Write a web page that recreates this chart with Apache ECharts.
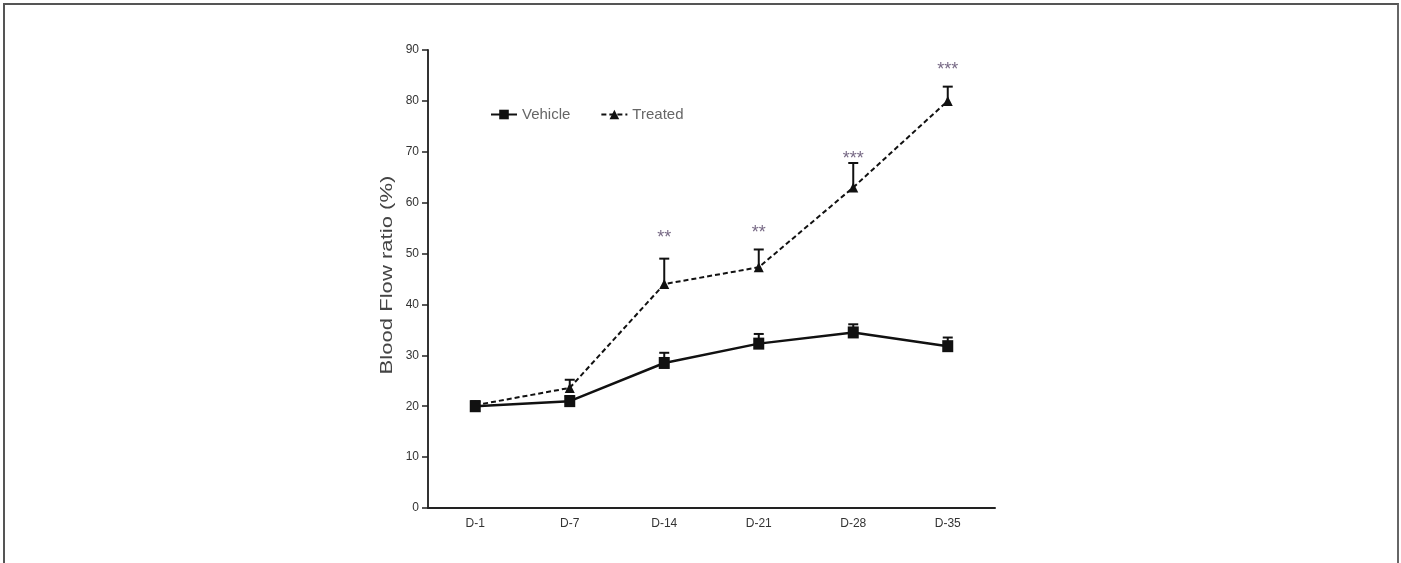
<!DOCTYPE html>
<html>
<head>
<meta charset="utf-8">
<script src="https://cdn.jsdelivr.net/npm/echarts@6/dist/echarts.min.js"></script>
<style>
html,body{margin:0;padding:0;background:#fff;}
#frame{position:absolute;left:3px;top:3px;width:1392px;height:580px;border-left:2px solid #555;border-top:2px solid #555;border-right:2px solid #666;}
#chart{position:absolute;left:0;top:0;width:1401px;height:563px;}
</style>
</head>
<body>
<div id="frame"></div>
<div id="chart"></div>
<script>
const categories = ['D-1','D-7','D-14','D-21','D-28','D-35'];
const vehicleMean = [20.0, 21.0, 28.5, 32.3, 34.5, 31.8];
const vehicleErr  = [1.0, 1.0, 2.0, 1.9, 1.6, 1.7];
const treatedMean = [20.2, 23.6, 44.0, 47.3, 63.0, 80.0];
const treatedErr  = [0.6, 1.6, 5.0, 3.5, 4.8, 2.8];
const sigLabels   = ['', '', '**', '**', '***', '***'];
const sigPos      = ['-', '-', 53, 54, 68.5, 86];
const yTitle = 'Blood Flow ratio (%)';

const FONT = "'Liberation Sans Narrow','Liberation Sans',Arial,sans-serif";

function errSeries(name, means, errs, z) {
  return {
    type: 'custom',
    name: name + ' err',
    z: z,
    silent: true,
    data: means.map((m, i) => [i, m, m + errs[i]]),
    renderItem: function (params, api) {
      const p0 = api.coord([api.value(0), api.value(1)]);
      const p1 = api.coord([api.value(0), api.value(2)]);
      const w = 5;
      const st = {stroke: '#111', lineWidth: 2};
      return {
        type: 'group',
        children: [
          {type: 'line', shape: {x1: p0[0], y1: p0[1], x2: p1[0], y2: p1[1]}, style: st},
          {type: 'line', shape: {x1: p1[0] - w, y1: p1[1], x2: p1[0] + w, y2: p1[1]}, style: st}
        ]
      };
    }
  };
}

const chart = echarts.init(document.getElementById('chart'), null, {renderer: 'canvas'});
chart.setOption({
  backgroundColor: 'transparent',
  animation: false,
  grid: {left: 428, right: 406, top: 50, bottom: 55, containLabel: false},
  legend: {
    left: 485, top: 102,
    itemWidth: 26, itemHeight: 12, itemGap: 30,
    textStyle: {fontFamily: FONT, fontSize: 15, color: '#666'},
    data: ['Vehicle', 'Treated']
  },
  graphic: [{
    type: 'text',
    x: 388, y: 275,
    rotation: Math.PI / 2,
    scaleX: 1.38,
    style: {text: yTitle, font: "16px 'Liberation Sans', Arial, sans-serif", fill: '#444',
      textAlign: 'center', textVerticalAlign: 'middle'}
  }],
  xAxis: {
    type: 'category',
    data: categories,
    boundaryGap: true,
    axisLine: {lineStyle: {color: '#222', width: 2}},
    axisTick: {alignWithLabel: true, length: 5, lineStyle: {color: '#222', width: 1.5}},
    axisLabel: {fontFamily: FONT, fontSize: 12, color: '#333', margin: 10}
  },
  yAxis: {
    type: 'value',
    min: 0, max: 90, interval: 10,
    splitLine: {show: false},
    axisLine: {show: true, lineStyle: {color: '#333', width: 2}},
    axisTick: {show: true, length: 6, lineStyle: {color: '#222', width: 1.5}},
    axisLabel: {fontFamily: FONT, fontSize: 12, color: '#333', margin: 9}
  },
  series: [
    errSeries('Vehicle', vehicleMean, vehicleErr, 3),
    errSeries('Treated', treatedMean, treatedErr, 3),
    {
      name: 'Vehicle', type: 'line', data: vehicleMean, z: 5,
      symbol: 'rect', symbolSize: [11, 12],
      itemStyle: {color: '#111'},
      lineStyle: {color: '#111', width: 2.5}
    },
    {
      name: 'Treated', type: 'line', data: treatedMean, z: 4,
      symbol: 'triangle', symbolSize: 10,
      itemStyle: {color: '#111'},
      lineStyle: {color: '#111', width: 2, type: [5, 3]}
    },
    {
      name: 'sig', type: 'scatter', symbolSize: 0, silent: true,
      data: sigPos,
      label: {
        show: true, position: 'inside',
        formatter: p => sigLabels[p.dataIndex],
        fontFamily: FONT, fontSize: 18, color: '#554466'
      }
    }
  ]
});
</script>
</body>
</html>
